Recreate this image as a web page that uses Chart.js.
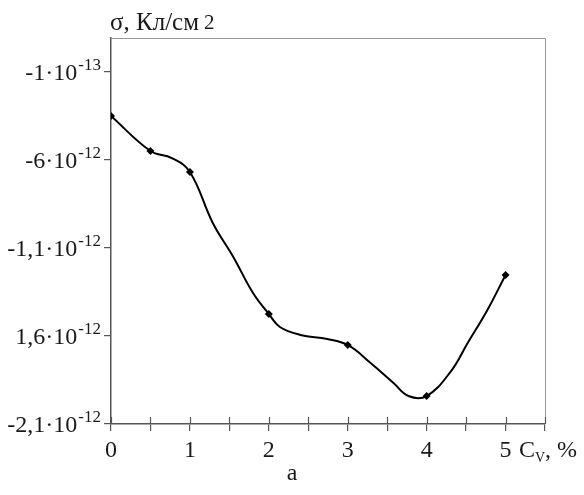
<!DOCTYPE html>
<html>
<head>
<meta charset="utf-8">
<script src="https://cdn.jsdelivr.net/npm/chart.js@4"></script>
<style>
  html, body { margin: 0; padding: 0; background: #fff; }
  #wrap { width: 584px; height: 495px; position: relative; }
</style>
</head>
<body>
<div id="wrap"><canvas id="c"></canvas></div>
<script>
// данные (значения sigma в единицах 1e-12 Кл/см2)
const measuredCv = [0, 0.5, 1, 2, 3, 4, 5];
const measuredSigma = [-0.35, -0.549, -0.668, -1.475, -1.651, -1.941, -1.253];

// точки сглаженной кривой
const curveCv = [0, 0.5, 0.77, 1, 1.29, 1.55, 1.8, 2, 2.14, 2.4, 2.74, 3, 3.29, 3.58, 3.77, 4, 4.3, 4.52, 4.77, 5];
const curveSigma = [-0.35, -0.549, -0.589, -0.668, -0.958, -1.151, -1.356, -1.475, -1.549, -1.594, -1.617, -1.651, -1.753, -1.867, -1.941, -1.941, -1.805, -1.640, -1.452, -1.253];

// подписи оси Y (как в оригинале)
const yTickValues = [-0.1, -0.6, -1.1, -1.6, -2.1];
const yTickMantissa = ['-1\u00b710', '-6\u00b710', '-1,1\u00b710', '1,6\u00b710', '-2,1\u00b710'];
const yTickExp = ['-13', '-12', '-12', '-12', '-12'];
const xTickLabels = ['0', '1', '2', '3', '4', '5'];

const FONT = '"Liberation Serif", "Times New Roman", serif';
const TEXT = '#1a1a1a';
const AXIS = '#555';

// подписи и рамка
const labelsPlugin = {
  id: 'labels',
  afterDraw(chart) {
    const ctx = chart.ctx;
    const xs = chart.scales.x, ys = chart.scales.y;
    const area = chart.chartArea;
    ctx.save();

    // рамка сверху и справа
    ctx.strokeStyle = '#999';
    ctx.lineWidth = 1;
    ctx.beginPath();
    ctx.moveTo(area.left, area.top + 0.5);
    ctx.lineTo(area.right + 0.5, area.top + 0.5);
    ctx.lineTo(area.right + 0.5, area.bottom);
    ctx.stroke();

    // засечки оси X внутрь
    ctx.strokeStyle = AXIS;
    ctx.lineWidth = 1.2;
    xs.ticks.forEach(t => {
      const px = Math.round(xs.getPixelForValue(t.value)) + 0.5;
      ctx.beginPath();
      ctx.moveTo(px, area.bottom - 7);
      ctx.lineTo(px, area.bottom);
      ctx.stroke();
    });

    ctx.fillStyle = TEXT;
    ctx.textBaseline = 'alphabetic';

    // подписи Y
    yTickValues.forEach((v, i) => {
      const py = ys.getPixelForValue(v);
      ctx.font = '17px ' + FONT;
      const w = ctx.measureText(yTickExp[i]).width;
      const sx = 101 - w;
      ctx.textAlign = 'left';
      ctx.fillText(yTickExp[i], sx, py - 2);
      ctx.font = '24px ' + FONT;
      ctx.textAlign = 'right';
      ctx.fillText(yTickMantissa[i], sx - 1, py + 8);
    });

    // подписи X
    ctx.font = '24px ' + FONT;
    ctx.textAlign = 'center';
    xTickLabels.forEach(l => {
      ctx.fillText(l, xs.getPixelForValue(Number(l)), 457);
    });

    // подпись оси X: C_V, %
    ctx.textAlign = 'left';
    ctx.font = '24px ' + FONT;
    ctx.fillText('C', 519, 457);
    let x = 519 + ctx.measureText('C').width;
    ctx.font = '14px ' + FONT;
    ctx.fillText('V', x, 462);
    x += ctx.measureText('V').width;
    ctx.font = '24px ' + FONT;
    ctx.fillText(', %', x, 457);

    // заголовок оси Y
    ctx.font = '25px ' + FONT;
    ctx.fillText('\u03c3, \u041a\u043b/\u0441\u043c', 110, 30);
    ctx.font = '21px ' + FONT;
    ctx.fillText('2', 204, 29);

    // буква под графиком
    ctx.font = '24px ' + FONT;
    ctx.textAlign = 'center';
    ctx.fillText('a', 292, 480);

    ctx.restore();
  }
};

new Chart(document.getElementById('c'), {
  type: 'line',
  data: {
    datasets: [
      {
        data: curveCv.map((x, i) => ({ x: x, y: curveSigma[i] })),
        borderColor: '#000',
        borderWidth: 2,
        pointRadius: 0,
        tension: 0.4,
        fill: false
      },
      {
        data: measuredCv.map((x, i) => ({ x: x, y: measuredSigma[i] })),
        showLine: false,
        pointStyle: 'rectRot',
        pointRadius: 4,
        pointBackgroundColor: '#000',
        pointBorderColor: '#000',
        pointBorderWidth: 0
      }
    ]
  },
  options: {
    responsive: true,
    maintainAspectRatio: false,
    animation: false,
    events: [],
    layout: { padding: { left: 0, top: 38, right: 39, bottom: 0 } },
    plugins: { legend: { display: false }, tooltip: { enabled: false } },
    scales: {
      x: {
        type: 'linear',
        min: 0,
        max: 5.5,
        ticks: { display: false, stepSize: 0.5 },
        grid: { drawOnChartArea: false, drawTicks: true, tickLength: 7, color: AXIS, lineWidth: 1.2 },
        border: { color: AXIS, width: 1.5 },
        afterFit(scale) { scale.height = 71; }
      },
      y: {
        type: 'linear',
        min: -2.1,
        max: 0.093,
        afterBuildTicks(scale) {
          scale.ticks = yTickValues.map(v => ({ value: v }));
        },
        ticks: { display: false },
        grid: { drawOnChartArea: false, drawTicks: true, tickLength: 7, color: AXIS, lineWidth: 1.2 },
        border: { color: AXIS, width: 1.5 },
        afterFit(scale) { scale.width = 111; }
      }
    }
  },
  plugins: [labelsPlugin]
});
</script>
</body>
</html>
